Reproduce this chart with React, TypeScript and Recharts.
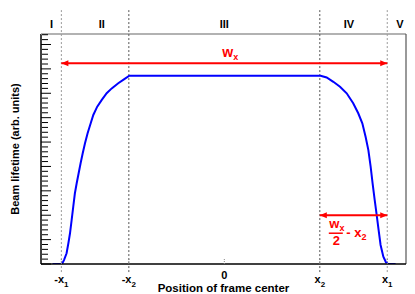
import { LineChart, Line, XAxis, YAxis, ReferenceLine } from "recharts";

// beam lifetime vs frame-center position (x1 = 1 in these units)
const curveX = [
  -1.054, -0.996, -0.984, -0.968, -0.957, -0.947, -0.937, -0.927, -0.917, -0.906, -0.894, -0.882, -0.869,
  -0.855, -0.839, -0.82, -0.804, -0.78, -0.753, -0.722, -0.691, -0.651, -0.616, -0.583,
  0.591, 0.628, 0.669, 0.71, 0.751, 0.791, 0.822, 0.847, 0.867, 0.884, 0.898, 0.91, 0.923, 0.935, 0.947,
  0.959, 0.976, 0.992, 1.004, 1.051,
];
const curveY = [
  0, 0, 0.16, 0.44, 0.85, 1.26, 1.8, 2.35, 2.9, 3.31, 3.72, 4.13, 4.54,
  4.95, 5.36, 5.77, 6.11, 6.45, 6.72, 7.0, 7.2, 7.41, 7.57, 7.72,
  7.72, 7.65, 7.47, 7.27, 7.0, 6.59, 6.18, 5.77, 5.22, 4.67, 3.99, 3.31, 2.62, 2.01, 1.39,
  0.78, 0.3, 0.07, 0, 0,
];

const xTickValues = [-1, -0.586, 0, 0.586, 1];
const xTickMain = ["-x", "-x", "0", "x", "x"];
const xTickSub = ["1", "2", "", "2", "1"];

const regionPos = [-1.06, -0.752, 0, 0.765, 1.078];
const regionLabels = ["I", "II", "III", "IV", "V"];

const boundaryX = [-1, -0.586, 0.586, 1];
const boundaryColor = ["#9a9a9a", "#555555", "#555555", "#9a9a9a"];

const yMajorTicks = [0, 1, 2, 3, 4, 5, 6, 7, 8, 9];
const yMinorTicks = [
  0.2, 0.4, 0.6, 0.8, 1.2, 1.4, 1.6, 1.8, 2.2, 2.4, 2.6, 2.8, 3.2, 3.4, 3.6, 3.8, 4.2, 4.4, 4.6, 4.8,
  5.2, 5.4, 5.6, 5.8, 6.2, 6.4, 6.6, 6.8, 7.2, 7.4, 7.6, 7.8, 8.2, 8.4, 8.6, 8.8, 9.2, 9.4,
];

const wxArrowY = 8.23;
const halfArrowY = 2.0;

const X_DOMAIN: [number, number] = [-1.125, 1.115];
const Y_DOMAIN: [number, number] = [0, 9.43];

const data = curveX.map((x, i) => ({ x, y: curveY[i] }));

const FONT = "'Liberation Sans', Arial, sans-serif";
const RED = "#ff0000";

function XTick(props: any) {
  const { x, y, index } = props;
  const sub = xTickSub[index];
  return (
    <text x={x} y={y + (sub ? 11 : 7)} textAnchor="middle" fontFamily={FONT} fontWeight="bold" fontSize={11} fill="#000">
      {xTickMain[index]}
      {sub && (
        <tspan dy={4} fontSize={8}>
          {sub}
        </tspan>
      )}
    </text>
  );
}

function RegionTick(props: any) {
  const { x, y, index } = props;
  return (
    <text x={x} y={y + 3} textAnchor="middle" fontFamily={FONT} fontWeight="bold" fontSize={11} fill="#000">
      {regionLabels[index]}
    </text>
  );
}

function NoLabel() {
  return null;
}

function heads(x1: number, y1: number, x2: number, y2: number) {
  const dir = x2 > x1 ? 1 : -1;
  const len = 7;
  const hw = 3;
  return [
    `${x1},${y1} ${x1 + dir * len},${y1 - hw} ${x1 + dir * len},${y1 + hw}`,
    `${x2},${y2} ${x2 - dir * len},${y2 - hw} ${x2 - dir * len},${y2 + hw}`,
  ];
}

function WidthArrow(props: any) {
  const { x1, y1, x2, y2 } = props;
  const [a, b] = heads(x1, y1, x2, y2);
  return (
    <g>
      <line x1={x1} y1={y1} x2={x2} y2={y2} stroke={RED} strokeWidth={2} />
      <polygon points={a} fill={RED} />
      <polygon points={b} fill={RED} />
      <text x={(x1 + x2) / 2 - 2} y={y1 - 6} fontFamily={FONT} fontWeight="bold" fontSize={14} fill={RED}>
        w
        <tspan dy={3} fontSize={9}>
          x
        </tspan>
      </text>
    </g>
  );
}

function HalfArrow(props: any) {
  const { x1, y1, x2, y2 } = props;
  const [a, b] = heads(x1, y1, x2, y2);
  return (
    <g>
      <line x1={x1} y1={y1} x2={x2} y2={y2} stroke={RED} strokeWidth={2} />
      <polygon points={a} fill={RED} />
      <polygon points={b} fill={RED} />
      <text x={x1 + 9.5} y={y1 + 13} fontFamily={FONT} fontWeight="bold" fontSize={13} fill={RED}>
        w
        <tspan dy={3} fontSize={9}>
          x
        </tspan>
      </text>
      <line x1={x1 + 9} y1={y1 + 18} x2={x1 + 23} y2={y1 + 18} stroke={RED} strokeWidth={1.5} />
      <text x={x1 + 16.5} y={y1 + 30} textAnchor="middle" fontFamily={FONT} fontWeight="bold" fontSize={13} fill={RED}>
        2
      </text>
      <text x={x1 + 26.5} y={y1 + 21.5} fontFamily={FONT} fontWeight="bold" fontSize={13} fill={RED}>
        - x
        <tspan dy={3} fontSize={9}>
          2
        </tspan>
      </text>
    </g>
  );
}

function YTitle(props: any) {
  const { viewBox } = props;
  const cy = viewBox.y + viewBox.height / 2;
  return (
    <text
      x={15}
      y={cy}
      transform={`rotate(-90 15 ${cy})`}
      textAnchor="middle"
      dominantBaseline="central"
      fontFamily={FONT}
      fontWeight="bold"
      fontSize={11}
      fill="#000"
    >
      Beam lifetime (arb. units)
    </text>
  );
}

export default function App() {
  return (
    <div style={{ position: "absolute", left: 0, top: 0, width: 415, height: 294, background: "#fff" }}>
      <LineChart width={415} height={294} data={data} margin={{ top: 14, right: 9, left: 41, bottom: 0 }}>
        <XAxis
          dataKey="x"
          type="number"
          domain={X_DOMAIN}
          allowDataOverflow
          ticks={xTickValues}
          interval={0}
          height={30}
          tickSize={-5}
          tickMargin={13}
          tickLine={{ stroke: "#888", strokeDasharray: "1 1" }}
          axisLine={{ stroke: "#000", strokeWidth: 1.5 }}
          tick={<XTick />}
          label={{
            value: "Position of frame center",
            position: "insideBottom",
            offset: 2,
            style: { fontFamily: FONT, fontWeight: "bold", fontSize: 11.5, fill: "#000" },
          }}
        />
        <XAxis
          xAxisId="top"
          orientation="top"
          type="number"
          dataKey="x"
          domain={X_DOMAIN}
          allowDataOverflow
          ticks={regionPos}
          interval={0}
          height={20}
          tickSize={0}
          tickMargin={9}
          axisLine={false}
          tickLine={false}
          tick={<RegionTick />}
        />
        <YAxis
          type="number"
          domain={Y_DOMAIN}
          allowDataOverflow
          ticks={yMajorTicks}
          interval={0}
          mirror
          width={1}
          tickSize={10}
          tickMargin={0}
          tick={<NoLabel />}
          axisLine={false}
          tickLine={{ stroke: "#000" }}
          label={{ content: <YTitle /> }}
        />
        <YAxis
          yAxisId="minor"
          type="number"
          domain={Y_DOMAIN}
          allowDataOverflow
          ticks={yMinorTicks}
          interval={0}
          mirror
          width={1}
          tickSize={6}
          tickMargin={0}
          tick={<NoLabel />}
          axisLine={false}
          tickLine={{ stroke: "#000" }}
        />

        {/* frame */}
        <ReferenceLine x={X_DOMAIN[0]} stroke="#000" strokeWidth={1.5} ifOverflow="visible" />
        <ReferenceLine y={Y_DOMAIN[1]} stroke="#999" strokeWidth={1.5} ifOverflow="visible" />
        <ReferenceLine x={X_DOMAIN[1]} stroke="#555" strokeWidth={1.2} ifOverflow="visible" />

        {/* region boundaries */}
        {boundaryX.map((bx, i) => (
          <ReferenceLine
            key={bx}
            segment={[
              { x: bx, y: -0.33 },
              { x: bx, y: 10.41 },
            ]}
            stroke={boundaryColor[i]}
            strokeDasharray="2 2"
            strokeWidth={1}
            ifOverflow="visible"
          />
        ))}

        <Line
          dataKey="y"
          type="linear"
          stroke="#0000ff"
          strokeWidth={2}
          dot={false}
          activeDot={false}
          isAnimationActive={false}
        />

        <ReferenceLine
          segment={[
            { x: -1, y: wxArrowY },
            { x: 1, y: wxArrowY },
          ]}
          ifOverflow="visible"
          shape={<WidthArrow />}
        />
        <ReferenceLine
          segment={[
            { x: 0.586, y: halfArrowY },
            { x: 1, y: halfArrowY },
          ]}
          ifOverflow="visible"
          shape={<HalfArrow />}
        />
      </LineChart>
    </div>
  );
}
